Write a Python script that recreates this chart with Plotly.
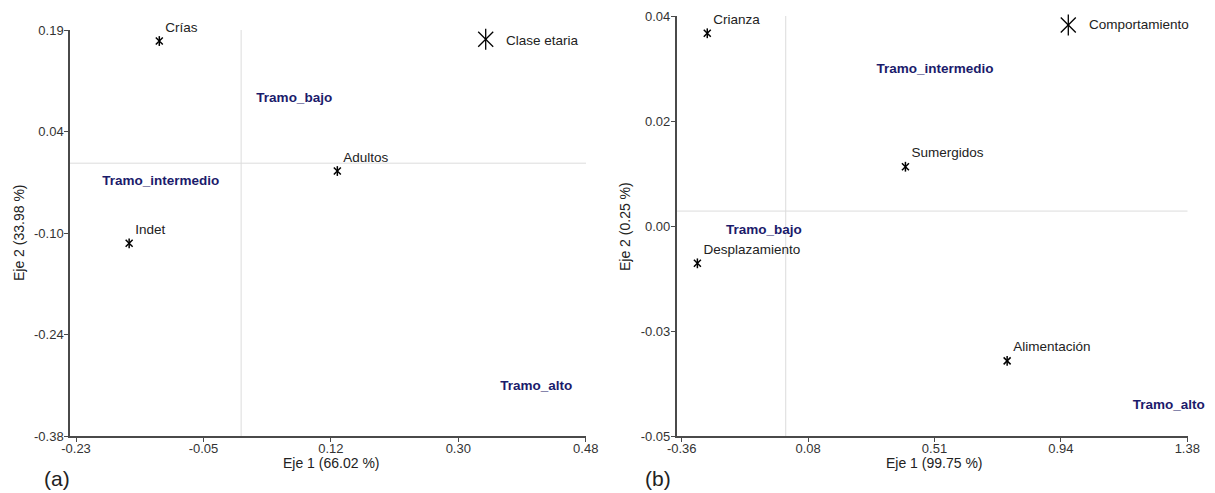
import plotly.graph_objects as go

W, H = 1215, 493
FONT = "Liberation Sans, Arial, sans-serif"
NAVY = "#1b1b6b"
AXIS = "#4a4a4a"

# ---- (a) Clase etaria ----
a_names = ["Crías", "Adultos", "Indet"]
a_x = [-0.114, 0.134, -0.156]
a_y = [0.1745, -0.008, -0.1095]
a_tramo_names = ["Tramo_bajo", "Tramo_intermedio", "Tramo_alto"]
a_tramo_x = [0.074, -0.112, 0.411]
a_tramo_y = [0.094, -0.023, -0.311]
a_center = (0.0, 0.003)
a_xticks = [-0.23, -0.0525, 0.125, 0.3025, 0.48]
a_xtext = ["-0.23", "-0.05", "0.12", "0.30", "0.48"]
a_yticks = [-0.38, -0.2375, -0.095, 0.0475, 0.19]
a_ytext = ["-0.38", "-0.24", "-0.10", "0.04", "0.19"]

# ---- (b) Comportamiento ----
b_names = ["Crianza", "Sumergidos", "Desplazamiento", "Alimentación"]
b_x = [-0.272, 0.410, -0.306, 0.760]
b_y = [0.0363, 0.0077, -0.013, -0.0339]
b_tramo_names = ["Tramo_intermedio", "Tramo_bajo", "Tramo_alto"]
b_tramo_x = [0.512, -0.077, 1.316]
b_tramo_y = [0.0286, -0.0059, -0.0435]
b_center = (-0.002, -0.0018)
b_xticks = [-0.36, 0.075, 0.51, 0.945, 1.38]
b_xtext = ["-0.36", "0.08", "0.51", "0.94", "1.38"]
b_yticks = [-0.05, -0.0275, -0.005, 0.0175, 0.04]
b_ytext = ["-0.05", "-0.03", "0.00", "0.02", "0.04"]


def px(x):
    return x / W


def py(y):
    return 1 - y / H


fig = go.Figure()


def add_panel(xa, ya, names, xs, ys, tn, tx, ty):
    # six-armed asterisk: vertical bar + thin cross
    for sym in ["line-ns-open", "x-thin-open"]:
        fig.add_trace(go.Scatter(
            x=xs, y=ys, xaxis=xa, yaxis=ya, mode="markers",
            marker=dict(symbol=sym, size=7, color="black",
                        line=dict(color="black", width=1.5)),
            showlegend=False, hoverinfo="skip", cliponaxis=False))
    # point labels, offset up-right from an invisible marker
    fig.add_trace(go.Scatter(
        x=xs, y=ys, xaxis=xa, yaxis=ya, mode="markers+text", text=names,
        textposition="top right",
        textfont=dict(family=FONT, size=13.5, color="#222"),
        marker=dict(size=8, opacity=0), showlegend=False,
        hoverinfo="skip", cliponaxis=False))
    fig.add_trace(go.Scatter(
        x=tx, y=ty, xaxis=xa, yaxis=ya, mode="text", text=tn,
        textposition="middle center",
        textfont=dict(family=FONT, size=13.5, color=NAVY, weight="bold"),
        showlegend=False, hoverinfo="skip", cliponaxis=False))


add_panel("x", "y", a_names, a_x, a_y, a_tramo_names, a_tramo_x, a_tramo_y)
add_panel("x2", "y2", b_names, b_x, b_y, b_tramo_names, b_tramo_x, b_tramo_y)

axis_common = dict(showgrid=False, zeroline=False, showline=True,
                   linecolor=AXIS, linewidth=1.5, ticks="outside",
                   ticklen=4, tickcolor=AXIS, tickwidth=1,
                   tickfont=dict(family=FONT, size=13, color="#333"),
                   fixedrange=True, automargin=False)

fig.update_layout(
    width=W, height=H, autosize=False,
    margin=dict(l=0, r=0, t=0, b=0, pad=0),
    paper_bgcolor="white", plot_bgcolor="white",
    xaxis=dict(domain=[px(70), px(586)], range=[-0.2384, 0.4804],
               tickvals=a_xticks, ticktext=a_xtext, anchor="y", **axis_common),
    yaxis=dict(domain=[py(436), py(30)], range=[-0.38, 0.19],
               tickvals=a_yticks, ticktext=a_ytext, anchor="x", **axis_common),
    xaxis2=dict(domain=[px(676.7), px(1187.5)], range=[-0.3772, 1.3807],
                tickvals=b_xticks, ticktext=b_xtext, anchor="y2", **axis_common),
    yaxis2=dict(domain=[py(436), py(16)], range=[-0.05, 0.04],
                tickvals=b_yticks, ticktext=b_ytext, anchor="x2", **axis_common),
)

# pull tick labels a little closer to the axis lines
try:
    fig.update_xaxes(ticklabelstandoff=-4)
    fig.update_yaxes(ticklabelstandoff=-2)
except ValueError:
    pass

shapes = []
# centroid reference lines
for xr, yr, c in [("x", "y", a_center), ("x2", "y2", b_center)]:
    shapes.append(dict(type="line", xref=xr, yref=yr + " domain",
                       x0=c[0], x1=c[0], y0=0, y1=1,
                       line=dict(color="#dcdcdc", width=1), layer="below"))
    shapes.append(dict(type="line", xref=xr + " domain", yref=yr,
                       x0=0, x1=1, y0=c[1], y1=c[1],
                       line=dict(color="#dcdcdc", width=1), layer="below"))


# legend glyphs (six-armed asterisk)
def legend_glyph(cx, cy, r=10.5, d=7.5):
    segs = [((cx, cy - r), (cx, cy + r)),
            ((cx - d, cy - d), (cx + d, cy + d)),
            ((cx - d, cy + d), (cx + d, cy - d))]
    for (x0, y0), (x1, y1) in segs:
        shapes.append(dict(type="line", xref="paper", yref="paper",
                           x0=px(x0), x1=px(x1), y0=py(y0), y1=py(y1),
                           line=dict(color="black", width=1.3)))


legend_glyph(485.7, 39.3)
legend_glyph(1068.3, 25)
fig.update_layout(shapes=shapes)

annotations = []


def note(text, x, y, size=13.5, angle=0, color="#222"):
    annotations.append(dict(text=text, x=px(x), y=py(y), xref="paper", yref="paper",
                            xanchor="center", yanchor="middle", showarrow=False,
                            textangle=angle,
                            font=dict(family=FONT, size=size, color=color)))


note("Clase etaria", 542.5, 40)
note("Comportamiento", 1138.7, 25)
note("Eje 1 (66.02 %)", 331.7, 462.5, size=14)
note("Eje 1 (99.75 %)", 934.5, 462.5, size=14)
note("Eje 2 (33.98 %)", 19, 233, size=14, angle=-90)
note("Eje 2 (0.25 %)", 625, 227, size=14, angle=-90)
note("(a)", 57, 478, size=21)
note("(b)", 658, 478, size=21)
fig.update_layout(annotations=annotations)

fig.write_html(
    "out.html",
    config={"responsive": False, "displayModeBar": False},
    post_script="document.body.style.margin='0';document.body.style.overflow='hidden';",
)
